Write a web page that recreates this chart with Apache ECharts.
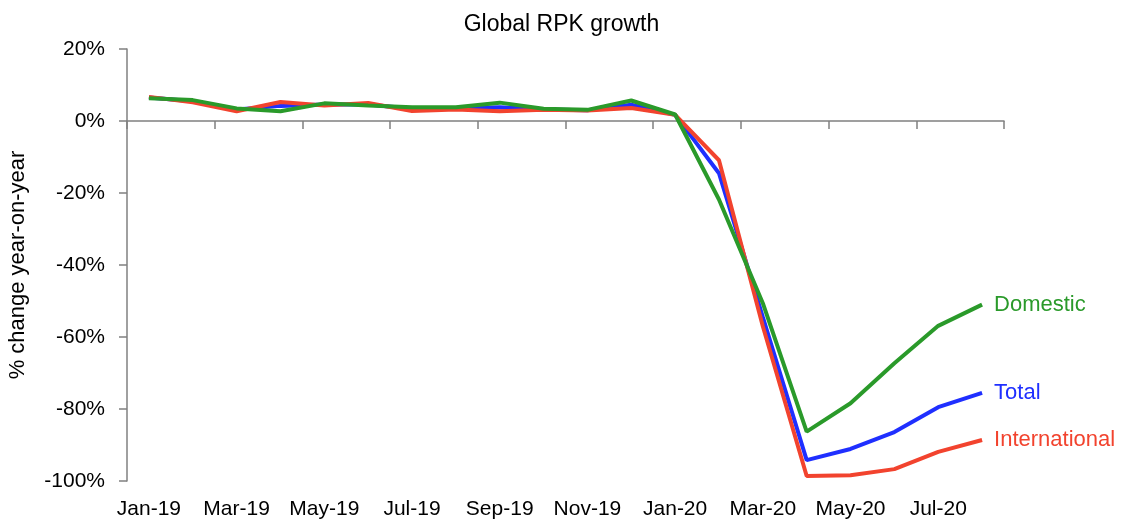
<!DOCTYPE html>
<html>
<head>
<meta charset="utf-8">
<script src="https://cdn.jsdelivr.net/npm/echarts@6/dist/echarts.min.js"></script>
<style>
  html, body { margin: 0; padding: 0; background: #fff; }
  #main { width: 1123px; height: 522px; }
</style>
</head>
<body>
<div id="main"></div>
<script>
// months Jan-19 .. Aug-20
var months = ["Jan-19", "Feb-19", "Mar-19", "Apr-19", "May-19", "Jun-19", "Jul-19", "Aug-19",
  "Sep-19", "Oct-19", "Nov-19", "Dec-19", "Jan-20", "Feb-20", "Mar-20", "Apr-20",
  "May-20", "Jun-20", "Jul-20", "Aug-20"];

// % change year-on-year
var total = [6.5, 5.5, 3.2, 4.2, 4.6, 4.6, 3.4, 3.5, 3.8, 3.2, 3.0, 4.5, 1.7,
  -14.5, -54.5, -94.2, -91.1, -86.4, -79.5, -75.5];
var international = [6.7, 5.2, 2.7, 5.3, 4.3, 5.0, 2.8, 3.2, 2.7, 3.1, 2.9, 3.6, 1.7,
  -10.9, -57, -98.6, -98.4, -96.7, -91.9, -88.6];
var domestic = [6.3, 5.8, 3.5, 2.7, 4.9, 4.3, 3.8, 3.8, 5.1, 3.4, 3.1, 5.7, 1.8,
  -21.8, -50.6, -86.3, -78.4, -67.3, -56.9, -51.0];

var yTicks = { min: -100, max: 20, interval: 20 };

var font = "Liberation Sans";

function line(name, data, color) {
  return {
    name: name,
    type: "line",
    data: data,
    showSymbol: false,
    symbol: "none",
    lineStyle: { color: color, width: 4 },
    itemStyle: { color: color },
    endLabel: {
      show: true,
      formatter: name,
      color: color,
      fontFamily: font,
      fontSize: 22,
      distance: 12
    },
    emphasis: { disabled: true },
    animation: false
  };
}

var myChart = echarts.init(document.getElementById("main"));
myChart.setOption({
  animation: false,
  title: {
    text: "Global RPK growth",
    left: "center",
    top: 8,
    textStyle: { fontFamily: font, fontSize: 23, fontWeight: "normal", color: "#000" }
  },
  grid: { left: 127, right: 119, top: 49, bottom: 41, containLabel: false, outerBoundsMode: "none" },
  xAxis: {
    type: "category",
    data: months,
    boundaryGap: true,
    axisLine: { onZero: true, lineStyle: { color: "#808080", width: 1.5 } },
    axisTick: { show: true, interval: 1, length: 8, lineStyle: { color: "#808080", width: 1.5 } },
    axisLabel: {
      interval: 1,
      fontFamily: font,
      fontSize: 21,
      color: "#000",
      margin: 18
    },
    splitLine: { show: false }
  },
  yAxis: {
    type: "value",
    min: yTicks.min,
    max: yTicks.max,
    interval: yTicks.interval,
    name: "% change year-on-year",
    nameLocation: "middle",
    nameGap: 98,
    nameTextStyle: { fontFamily: font, fontSize: 22, color: "#000" },
    axisLine: { show: true, lineStyle: { color: "#808080", width: 1.5 } },
    axisTick: { show: true, length: 8, lineStyle: { color: "#808080", width: 1.5 } },
    axisLabel: {
      formatter: "{value}%",
      fontFamily: font,
      fontSize: 21,
      color: "#000",
      margin: 22
    },
    splitLine: { show: false }
  },
  series: [
    line("Total", total, "#1f2fff"),
    line("International", international, "#f2432e"),
    line("Domestic", domestic, "#2a9a2a")
  ]
});
</script>
</body>
</html>
